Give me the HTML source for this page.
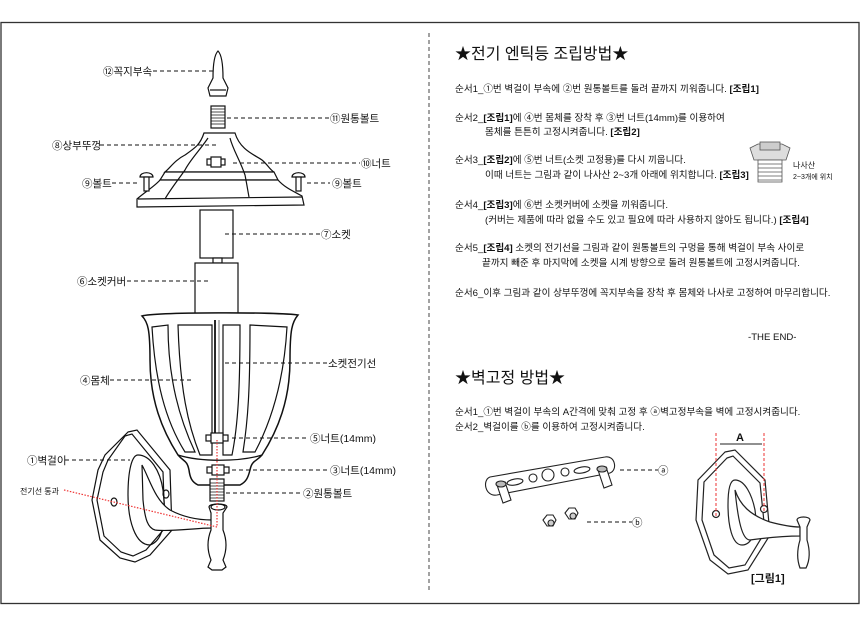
<!DOCTYPE html>
<html><head><meta charset="utf-8"><style>
html,body{margin:0;padding:0;background:#fff;}
svg{display:block;}
text{font-family:"Liberation Sans","Noto Sans CJK KR",sans-serif;fill:#111;}
.t{font-size:9.6px;}
.l{font-size:10.5px;}
</style></head><body>
<svg width="860" height="627" viewBox="0 0 860 627" xmlns="http://www.w3.org/2000/svg">
<rect x="1" y="22.5" width="858" height="581" fill="none" stroke="#333" stroke-width="1.3"/>
<line x1="429" y1="33" x2="429" y2="592" stroke="#444" stroke-dasharray="4,3"/>
<g fill="none" stroke="#111" stroke-width="1.2">
<path d="M218,51 C214,55 213,65 213,78 L208,88 L210,96 L226,96 L228,88 L223,78 C223,65 222,55 218,51Z" fill="#fff"/>
<line x1="210" y1="90" x2="226" y2="90"/>
<rect x="211" y="106" width="14" height="22" fill="#fff"/>
<path d="M211,109h14M211,112h14M211,115h14M211,118h14M211,121h14M211,124h14" stroke-width=".8"/>
<path d="M204,133 L235,133 C240,150 255,155 262,160 C268,165 270,170 274,172 L165,172 C170,168 175,160 185,155 C195,148 200,145 204,133Z" fill="#fff"/>
<path d="M165,172 L274,172 L278,180 L160,180Z" fill="#fff"/>
<path d="M160,180 L278,180 C285,188 295,192 302,196 L304,205 L137,207 L137,199 C145,192 155,186 160,180Z" fill="#fff"/>
<path d="M138,199 L302,197"/>
<path d="M208,138 C200,150 190,160 185,170 C178,180 170,190 165,199 M230,138 C233,150 240,160 245,175 C247,185 248,192 249,197"/>
<rect x="207" y="159" width="18" height="6" fill="#fff"/>
<rect x="211" y="157" width="10" height="10" fill="#fff"/>
<path d="M140,177 a6,4 0 0 1 13,0 Z" fill="#fff"/><rect x="144" y="177" width="5" height="14" fill="#fff"/>
<path d="M292,177 a6,4 0 0 1 13,0 Z" fill="#fff"/><rect x="296" y="177" width="5" height="14" fill="#fff"/>
<rect x="200" y="210" width="33" height="48" fill="#fff"/>
<rect x="213" y="258" width="9" height="5" fill="#fff"/>
<rect x="195" y="263" width="43" height="55" fill="#fff"/>
<path d="M142,316 C155,312 280,312 298,315 C292,322 290,330 290,360 C290,400 278,430 262,455 C256,462 252,460 250,470 C248,478 246,482 240,485 L198,485 C192,482 190,478 189,470 C187,460 184,462 178,455 C162,430 150,400 150,360 C150,330 148,322 142,316Z" fill="#fff" stroke-width="1.5"/>
<path d="M178,455 C200,462 240,462 262,455"/>
<path d="M152,327 L168,325 C168,380 180,420 195,452 L185,452 C165,420 155,380 152,327Z"/>
<path d="M178,325 L212,325 L212,455 L200,455 C188,425 180,390 178,325Z"/>
<path d="M223,325 L240,325 C240,390 238,425 232,455 L223,455Z"/>
<path d="M250,325 L287,327 C284,380 272,420 255,452 L243,452 C248,420 250,390 250,325Z"/>
<line x1="215" y1="320" x2="215" y2="440" stroke-width="1.8"/>
<line x1="219" y1="320" x2="219" y2="440" stroke="#888"/>
<rect x="206" y="435" width="22" height="6" fill="#fff"/>
<rect x="211" y="433" width="12" height="10" fill="#fff"/>
<rect x="207" y="467" width="22" height="6" fill="#fff"/>
<rect x="212" y="465" width="12" height="10" fill="#fff"/>
<rect x="210" y="479" width="14" height="22" fill="#fff"/>
<path d="M210,483h14M210,486h14M210,489h14M210,492h14M210,495h14M210,498h14" stroke-width=".8"/>
<path d="M128,432 L137,430 L170,470 L172,530 L150,555 L135,562 L120,558 L100,540 L92,500 L98,470 L105,455Z" fill="#fff"/>
<path d="M125,436 L132,434 L163,472 L165,528 L146,550 L133,556 L121,552 L104,536 L97,500 L103,472 L108,460Z"/>
<path d="M138,455 C150,455 160,470 163,490 C166,515 165,540 150,545 C135,545 128,520 128,495 C128,470 132,455 138,455Z"/>
<path d="M142,465 C150,480 155,500 170,510 C185,518 200,520 212,520 L212,528 C195,528 170,532 155,530 C148,528 145,520 143,500Z" fill="#fff"/>
<ellipse cx="114" cy="502" rx="3" ry="4"/><ellipse cx="166" cy="494" rx="3" ry="4"/>
<path d="M209,507 C209,503 227,503 227,507 L223,513 L223,530 C227,540 227,550 223,560 L226,567 L222,570 L212,570 L208,567 L211,560 C207,550 207,540 211,530 L211,513Z" fill="#fff"/>
<ellipse cx="218" cy="507" rx="7" ry="3"/>
</g>
<line x1="217" y1="440" x2="217" y2="527" stroke="#e33" stroke-width="1.2" stroke-dasharray="1.5,1.5"/>
<line x1="64" y1="490" x2="217" y2="527" stroke="#e33" stroke-width="1.2" stroke-dasharray="1.5,1.5"/>
<g stroke="#111" stroke-dasharray="4,3" stroke-width="0.9">
<line x1="153" y1="71" x2="215" y2="71"/>
<line x1="227" y1="118" x2="329" y2="118"/>
<line x1="100" y1="145" x2="218" y2="145"/>
<line x1="233" y1="163" x2="360" y2="163"/>
<line x1="112" y1="183" x2="137" y2="183"/>
<line x1="307" y1="183" x2="330" y2="183"/>
<line x1="225" y1="234" x2="320" y2="234"/>
<line x1="127" y1="281" x2="210" y2="281"/>
<line x1="225" y1="363" x2="327" y2="363"/>
<line x1="110" y1="380" x2="193" y2="380"/>
<line x1="232" y1="438" x2="309" y2="438"/>
<line x1="232" y1="470" x2="329" y2="470"/>
<line x1="226" y1="493" x2="302" y2="493"/>
<line x1="65" y1="460" x2="130" y2="460"/>
<line x1="620" y1="470" x2="658" y2="470"/>
<line x1="587" y1="522" x2="632" y2="522"/>
</g>
<g class="l">
<text x="103" y="75">⑫꼭지부속</text>
<text x="330" y="122">⑪원통볼트</text>
<text x="52" y="149">⑧상부뚜껑</text>
<text x="361" y="167">⑩너트</text>
<text x="82" y="187">⑨볼트</text>
<text x="332" y="187">⑨볼트</text>
<text x="321" y="238">⑦소켓</text>
<text x="77" y="285">⑥소켓커버</text>
<text x="328" y="367">소켓전기선</text>
<text x="80" y="384">④몸체</text>
<text x="310" y="442">⑤너트(14mm)</text>
<text x="330" y="474">③너트(14mm)</text>
<text x="303" y="497">②원통볼트</text>
<text x="27" y="464">①벽걸이</text>
<text x="20" y="494" style="font-size:8px">전기선 통과</text>
</g>
<text x="455" y="59" style="font-size:16px">★전기 엔틱등 조립방법★</text>
<g class="t">
<text x="455" y="92">순서1_①번 벽걸이 부속에 ②번 원통볼트를 돌려 끝까지 끼워줍니다. <tspan font-weight="bold">[조립1]</tspan></text>
<text x="455" y="121">순서2_<tspan font-weight="bold">[조립1]</tspan>에 ④번 몸체를 장착 후 ③번 너트(14mm)를 이용하여</text>
<text x="485" y="135">몸체를 튼튼히 고정시켜줍니다. <tspan font-weight="bold">[조립2]</tspan></text>
<text x="455" y="163">순서3_<tspan font-weight="bold">[조립2]</tspan>에 ⑤번 너트(소켓 고정용)를 다시 끼웁니다.</text>
<text x="485" y="178">이때 너트는 그림과 같이 나사산 2~3개 아래에 위치합니다. <tspan font-weight="bold">[조립3]</tspan></text>
<text x="455" y="208">순서4_<tspan font-weight="bold">[조립3]</tspan>에 ⑥번 소켓커버에 소켓을 끼워줍니다.</text>
<text x="485" y="223">(커버는 제품에 따라 없을 수도 있고 필요에 따라 사용하지 않아도 됩니다.) <tspan font-weight="bold">[조립4]</tspan></text>
<text x="455" y="251">순서5_<tspan font-weight="bold">[조립4]</tspan> 소켓의 전기선을 그림과 같이 원통볼트의 구멍을 통해 벽걸이 부속 사이로</text>
<text x="482" y="266">끝까지 빼준 후 마지막에 소켓을 시계 방향으로 돌려 원통볼트에 고정시켜줍니다.</text>
<text x="455" y="296">순서6_이후 그림과 같이 상부뚜껑에 꼭지부속을 장착 후 몸체와 나사로 고정하여 마무리합니다.</text>
<text x="748" y="340">-THE END-</text>
<text x="455" y="415">순서1_①번 벽걸이 부속의 A간격에 맞춰 고정 후 ⓐ벽고정부속을 벽에 고정시켜줍니다.</text>
<text x="455" y="430">순서2_벽걸이를 ⓑ를 이용하여 고정시켜줍니다.</text>
</g>
<text x="455" y="383" style="font-size:16px">★벽고정 방법★</text>
<g fill="#ddd" stroke="#555" stroke-width="0.8">
<path d="M750,148 L758,144 L782,144 L790,148 L786,160 L754,160Z"/>
<rect x="760" y="142" width="20" height="8" fill="#ccc"/>
<rect x="758" y="160" width="24" height="22" fill="#fff"/>
<path d="M758,164h24M758,168h24M758,172h24M758,176h24M758,180h24"/>
</g>
<text x="793" y="168" style="font-size:8px">나사산</text>
<text x="793" y="179" style="font-size:7px">2~3개에 위치</text>
<g stroke="#222" fill="#fff" stroke-width="1.1">
<path d="M490,477 L605,457 C615,455 618,470 610,473 L497,495 C485,497 482,480 490,477Z"/>
<ellipse cx="515" cy="482" rx="8" ry="3" transform="rotate(-10 515 482)"/>
<circle cx="533" cy="478" r="4"/><circle cx="548" cy="475" r="6"/><circle cx="565" cy="472" r="4"/>
<ellipse cx="582" cy="470" rx="8" ry="3" transform="rotate(-10 582 470)"/>
<path d="M497,485 l8,-3 l6,18 l-8,3Z"/><ellipse cx="501" cy="484" rx="5" ry="3" fill="#bbb"/>
<path d="M598,470 l8,-3 l6,18 l-8,3Z"/><ellipse cx="602" cy="469" rx="5" ry="3" fill="#bbb"/>
<path d="M543,520 l4,-5 l6,0 l3,5 l-3,6 l-6,0Z"/><circle cx="551" cy="523" r="3" fill="#ccc"/>
<path d="M565,513 l4,-5 l6,0 l3,5 l-3,6 l-6,0Z"/><circle cx="573" cy="516" r="3" fill="#ccc"/>
</g>
<text x="658" y="474" class="l">ⓐ</text>
<text x="632" y="526" class="l">ⓑ</text>
<g stroke="#222" fill="#fff" stroke-width="1.2">
<path d="M725,452 L735,450 L765,480 L770,535 L748,570 L728,574 L710,560 L696,520 L698,480Z"/>
<path d="M727,458 L733,456 L760,483 L765,532 L745,565 L729,568 L714,555 L702,520 L704,482Z"/>
<path d="M735,480 C745,480 752,495 755,510 C758,530 752,545 742,545 C732,545 728,525 728,505 C728,490 730,480 735,480Z"/>
<path d="M735,490 C740,505 750,515 770,522 C785,526 795,527 800,527 L800,536 C785,536 765,538 750,540 C742,540 738,520 735,490Z"/>
<path d="M797,520 C797,516 810,516 810,520 L807,527 L807,540 C810,550 810,560 806,568 L800,568 C797,560 797,550 800,540 L800,527Z"/>
<circle cx="716" cy="514" r="3.5"/><circle cx="764" cy="509" r="3.5"/>
</g>
<line x1="716" y1="433" x2="716" y2="517" stroke="#e33" stroke-dasharray="3,2"/>
<line x1="764" y1="433" x2="764" y2="512" stroke="#e33" stroke-dasharray="3,2"/>
<line x1="720" y1="444" x2="762" y2="444" stroke="#222"/>
<text x="736" y="441" style="font-size:11px;font-weight:bold">A</text>
<text x="751" y="582" style="font-size:11px;font-weight:bold">[그림1]</text>
</svg>
</body></html>
